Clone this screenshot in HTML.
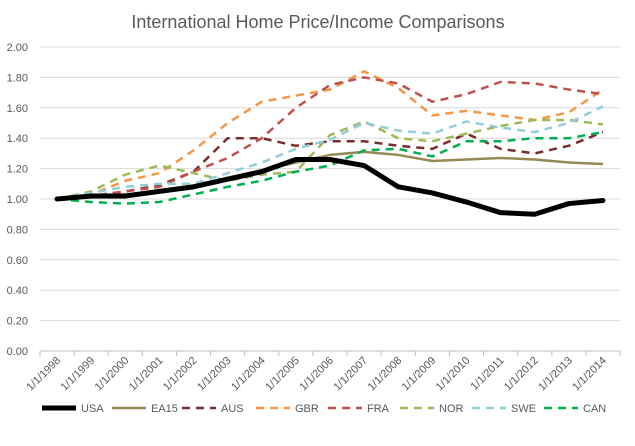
<!DOCTYPE html>
<html><head><meta charset="utf-8"><style>
body{margin:0;background:#fff;font-family:"Liberation Sans",sans-serif}
</style></head><body>
<svg id="c" width="635" height="441" xmlns="http://www.w3.org/2000/svg">
<rect width="635" height="441" fill="#fff"/>
<text x="318" y="28" text-anchor="middle" font-size="18" fill="#595959">International Home Price/Income Comparisons</text>
</svg>
<script>
const categories=["1/1/1998","1/1/1999","1/1/2000","1/1/2001","1/1/2002","1/1/2003","1/1/2004","1/1/2005","1/1/2006","1/1/2007","1/1/2008","1/1/2009","1/1/2010","1/1/2011","1/1/2012","1/1/2013","1/1/2014"];
const yTicks=[0,0.2,0.4,0.6,0.8,1.0,1.2,1.4,1.6,1.8,2.0];
const USA=[1.00,1.02,1.02,1.05,1.08,1.13,1.18,1.26,1.26,1.22,1.08,1.04,0.98,0.91,0.90,0.97,0.99];
const EA15=[1.00,1.01,1.03,1.05,1.09,1.14,1.19,1.24,1.29,1.31,1.29,1.25,1.26,1.27,1.26,1.24,1.23];
const AUS=[1.00,1.02,1.05,1.09,1.18,1.40,1.40,1.35,1.38,1.38,1.35,1.33,1.43,1.33,1.30,1.35,1.44];
const GBR=[1.00,1.03,1.12,1.17,1.32,1.50,1.64,1.68,1.72,1.84,1.73,1.55,1.58,1.55,1.52,1.57,1.72];
const FRA=[1.00,1.02,1.05,1.08,1.18,1.27,1.40,1.60,1.75,1.80,1.76,1.64,1.69,1.77,1.76,1.72,1.69];
const NOR=[1.00,1.05,1.16,1.22,1.17,1.12,1.16,1.18,1.42,1.51,1.40,1.38,1.43,1.48,1.52,1.52,1.49];
const SWE=[1.00,1.04,1.08,1.10,1.10,1.17,1.24,1.33,1.39,1.50,1.45,1.43,1.51,1.47,1.44,1.50,1.61];
const CAN=[1.00,0.98,0.97,0.98,1.03,1.08,1.12,1.18,1.22,1.32,1.33,1.28,1.38,1.38,1.40,1.40,1.44];
const NS="http://www.w3.org/2000/svg",svg=document.getElementById('c');
const L=40,R=620,T=47,B=351;
const bw=(R-L)/categories.length;
const xs=i=>L+bw*(i+0.5);
const ys=v=>B-(v/2)*(B-T);
function mk(t,a,p){const e=document.createElementNS(NS,t);for(const k in a)e.setAttribute(k,a[k]);(p||svg).appendChild(e);return e;}
yTicks.forEach(v=>{
 const g=mk('line',{x1:L,x2:R,y1:ys(v),y2:ys(v),stroke:v===0?'#bfbfbf':'#d9d9d9','stroke-width':1});
 
 
 const t=mk('text',{x:L-12,y:ys(v)+4,'text-anchor':'end','font-size':11,fill:'#595959'});t.textContent=v.toFixed(2);
 
 
});
for(let i=0;i<=categories.length;i++){const tk=mk('line',{x1:L+bw*i,x2:L+bw*i,y1:B,y2:B+5,stroke:'#bfbfbf'});
 
 }
categories.forEach((c,i)=>{const t=mk('text',{x:xs(i)+4,y:B+10,'text-anchor':'end','font-size':11,fill:'#595959',transform:`rotate(-45 ${xs(i)+4} ${B+10})`});t.textContent=c;
 
 });
const series=[["USA",USA,"#000",5,""],["EA15",EA15,"#948a54",2.5,""],["AUS",AUS,"#7b2c2c",2.5,"8,6"],["GBR",GBR,"#f79646",2.5,"8,6"],["FRA",FRA,"#c0504d",2.5,"8,6"],["NOR",NOR,"#9bbb59",2.5,"8,6"],["SWE",SWE,"#92cddc",2.5,"8,6"],["CAN",CAN,"#00b050",2.5,"8,6"]];
const draw=[1,2,3,4,5,6,7,0];
draw.forEach(k=>{const s=series[k];
 const p=mk('polyline',{points:s[1].map((v,i)=>xs(i)+','+ys(v)).join(' '),fill:'none',stroke:s[2],'stroke-width':s[3],'stroke-dasharray':s[4],'stroke-linejoin':'round','stroke-linecap':k===0?'round':'butt'});
 
 
});
const lx=[42,112,182,256,328,400,472,544];
series.forEach((s,i)=>{
 const l=mk('line',{x1:lx[i],x2:lx[i]+34,y1:408,y2:408,stroke:s[2],'stroke-width':s[3],'stroke-dasharray':s[4]});
 
 
 const t=mk('text',{x:lx[i]+39,y:412,'font-size':11,fill:'#595959'});t.textContent=s[0];
 
 
});
</script>
</body></html>
